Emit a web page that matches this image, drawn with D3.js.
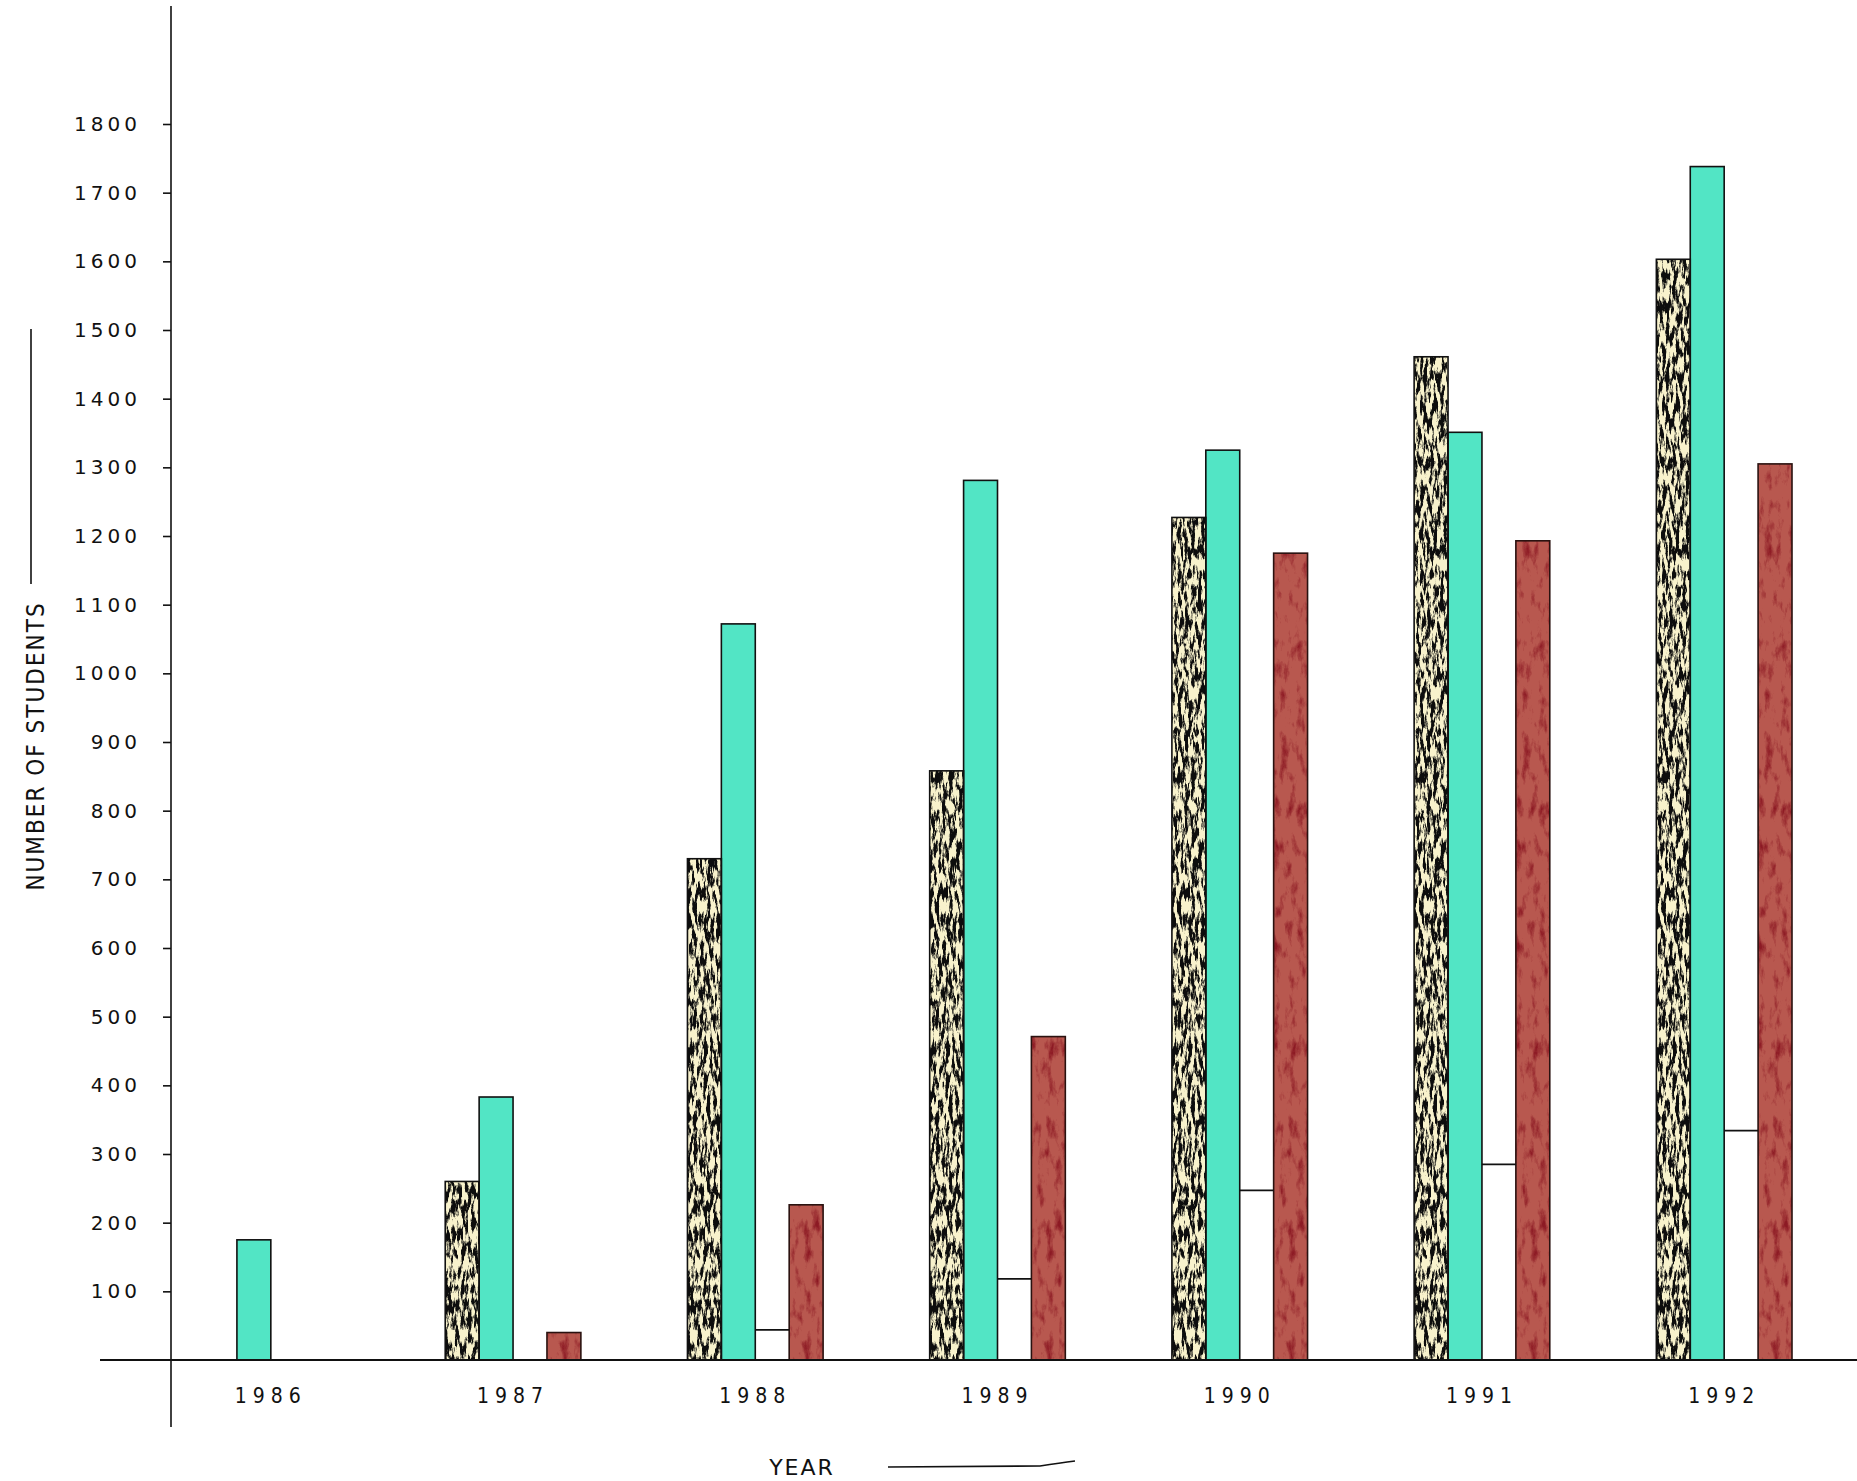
<!DOCTYPE html>
<html>
<head>
<meta charset="utf-8">
<script src="https://cdn.jsdelivr.net/npm/d3@7"></script>
<style>
  html, body { margin: 0; padding: 0; background: #fff; }
  svg { display: block; }
</style>
</head>
<body>
<svg id="chart" width="1857" height="1481"></svg>
<script>
// values
const years = ['1986', '1987', '1988', '1989', '1990', '1991', '1992'];
const seriesNames = ['cream', 'turquoise', 'white', 'red'];
const creamValues = [0, 260, 730, 858, 1227, 1461, 1603];
const turquoiseValues = [175, 383, 1072, 1281, 1325, 1351, 1738];
const whiteValues = [0, 0, 44, 118, 247, 285, 334];
const redValues = [0, 40, 226, 471, 1175, 1193, 1305];
const yTickValues = [100, 200, 300, 400, 500, 600, 700, 800, 900, 1000,
  1100, 1200, 1300, 1400, 1500, 1600, 1700, 1800];

const seriesValues = {
  cream: creamValues,
  turquoise: turquoiseValues,
  white: whiteValues,
  red: redValues
};

const colors = {
  cream: '#f8f2cc',
  turquoise: '#52e5c5',
  white: '#ffffff',
  red: '#b8584f'
};

const svg = d3.select('#chart');
const axisX = 171;

// textures for the crayon fills
const defs = svg.append('defs');

function textureFilter(id, freq, seed, matrix) {
  const f = defs.append('filter')
    .attr('id', id)
    .attr('x', 0).attr('y', 0).attr('width', 1).attr('height', 1)
    .attr('color-interpolation-filters', 'sRGB');
  f.append('feTurbulence')
    .attr('type', 'fractalNoise')
    .attr('baseFrequency', freq)
    .attr('numOctaves', 5)
    .attr('seed', seed)
    .attr('result', 'noise');
  f.append('feColorMatrix')
    .attr('in', 'noise')
    .attr('type', 'matrix')
    .attr('values', matrix)
    .attr('result', 'dots');
  f.append('feComposite')
    .attr('in', 'dots').attr('in2', 'SourceAlpha')
    .attr('operator', 'in').attr('result', 'dotsIn');
  const merge = f.append('feMerge');
  merge.append('feMergeNode').attr('in', 'SourceGraphic');
  merge.append('feMergeNode').attr('in', 'dotsIn');
}

textureFilter('speckle', '0.3 0.07', 7,
  '0 0 0 0 0.05  0 0 0 0 0.05  0 0 0 0 0.05  7 0 0 0 -3.1');
textureFilter('blotch', '0.12 0.05', 3,
  '0 0 0 0 0.55  0 0 0 0 0.1  0 0 0 0 0.14  3 0 0 0 -1.55');

// scales
const x = d3.scaleBand()
  .domain(years)
  .range([203, 1792])
  .paddingInner(0.44)
  .paddingOuter(0);

const xSeries = d3.scaleBand()
  .domain(seriesNames)
  .range([0, x.bandwidth()])
  .padding(0);

const y = d3.scaleLinear()
  .domain([0, 1800])
  .range([1360, 124]);

const rows = years.map((year, i) => ({
  year,
  values: seriesNames.map(key => ({ key, value: seriesValues[key][i] }))
}));

// bars
const groups = svg.selectAll('.year-group')
  .data(rows)
  .enter()
  .append('g')
  .attr('class', 'year-group')
  .attr('transform', d => `translate(${x(d.year)},0)`);

groups.selectAll('.bar')
  .data(d => d.values.filter(v => v.value > 0 && v.key !== 'white'))
  .enter()
  .append('rect')
  .attr('class', 'bar')
  .attr('x', d => xSeries(d.key))
  .attr('y', d => y(d.value))
  .attr('width', xSeries.bandwidth())
  .attr('height', d => y(0) - y(d.value))
  .attr('fill', d => colors[d.key])
  .attr('filter', d => d.key === 'cream' ? 'url(#speckle)' : d.key === 'red' ? 'url(#blotch)' : null);

// outlines drawn on top so the textures do not eat them
groups.selectAll('.bar-edge')
  .data(d => d.values.filter(v => v.value > 0 && v.key !== 'white'))
  .enter()
  .append('rect')
  .attr('class', 'bar-edge')
  .attr('x', d => xSeries(d.key))
  .attr('y', d => y(d.value))
  .attr('width', xSeries.bandwidth())
  .attr('height', d => y(0) - y(d.value))
  .attr('fill', 'none')
  .attr('stroke', d => d.key === 'red' ? '#2a1210' : '#111')
  .attr('stroke-width', 1.6);

// uncoloured series: only its top edge was drawn
groups.selectAll('.white-top')
  .data(d => d.values.filter(v => v.value > 0 && v.key === 'white'))
  .enter()
  .append('line')
  .attr('class', 'white-top')
  .attr('x1', d => xSeries(d.key))
  .attr('x2', d => xSeries(d.key) + xSeries.bandwidth())
  .attr('y1', d => y(d.value))
  .attr('y2', d => y(d.value))
  .attr('stroke', '#111')
  .attr('stroke-width', 1.8);

// y axis
svg.append('line')
  .attr('x1', axisX).attr('x2', axisX)
  .attr('y1', 6).attr('y2', 1427)
  .attr('stroke', '#111')
  .attr('stroke-width', 1.6);

const yAxis = svg.append('g')
  .attr('transform', `translate(${axisX},0)`)
  .call(d3.axisLeft(y)
    .tickValues(yTickValues)
    .tickFormat(d3.format('d'))
    .tickSize(8)
    .tickPadding(22));
yAxis.select('.domain').remove();
yAxis.selectAll('.tick line').attr('stroke', '#111').attr('stroke-width', 1.6);
yAxis.selectAll('.tick text')
  .attr('fill', '#111')
  .style('font-family', '"DejaVu Sans", sans-serif')
  .style('font-size', '20px')
  .style('letter-spacing', '4px');

// baseline
svg.append('line')
  .attr('x1', 100).attr('x2', 1857)
  .attr('y1', y(0)).attr('y2', y(0))
  .attr('stroke', '#111')
  .attr('stroke-width', 2);

// year labels
const xAxis = svg.append('g')
  .attr('transform', `translate(0,${y(0)})`)
  .call(d3.axisBottom(x).tickSize(0).tickPadding(28));
xAxis.select('.domain').remove();
xAxis.selectAll('.tick text')
  .attr('fill', '#111')
  .style('font-family', '"DejaVu Sans Condensed", "DejaVu Sans", sans-serif')
  .style('font-size', '21px')
  .style('letter-spacing', '6px');

// axis titles
svg.append('text')
  .attr('transform', 'translate(44,746) rotate(-90)')
  .attr('text-anchor', 'middle')
  .style('font-family', '"DejaVu Sans Condensed", sans-serif')
  .style('font-size', '24px')
  .style('letter-spacing', '2px')
  .attr('fill', '#111')
  .text('NUMBER OF STUDENTS');

svg.append('line')
  .attr('x1', 31).attr('x2', 31)
  .attr('y1', 329).attr('y2', 584)
  .attr('stroke', '#111')
  .attr('stroke-width', 1.6);

svg.append('text')
  .attr('x', 802)
  .attr('y', 1475)
  .attr('text-anchor', 'middle')
  .style('font-family', '"DejaVu Sans", sans-serif')
  .style('font-size', '22px')
  .style('letter-spacing', '2px')
  .attr('fill', '#111')
  .text('YEAR');

svg.append('path')
  .attr('d', 'M888,1467 L1040,1466 Q1060,1463 1075,1461')
  .attr('fill', 'none')
  .attr('stroke', '#111')
  .attr('stroke-width', 1.6);
</script>
</body>
</html>
